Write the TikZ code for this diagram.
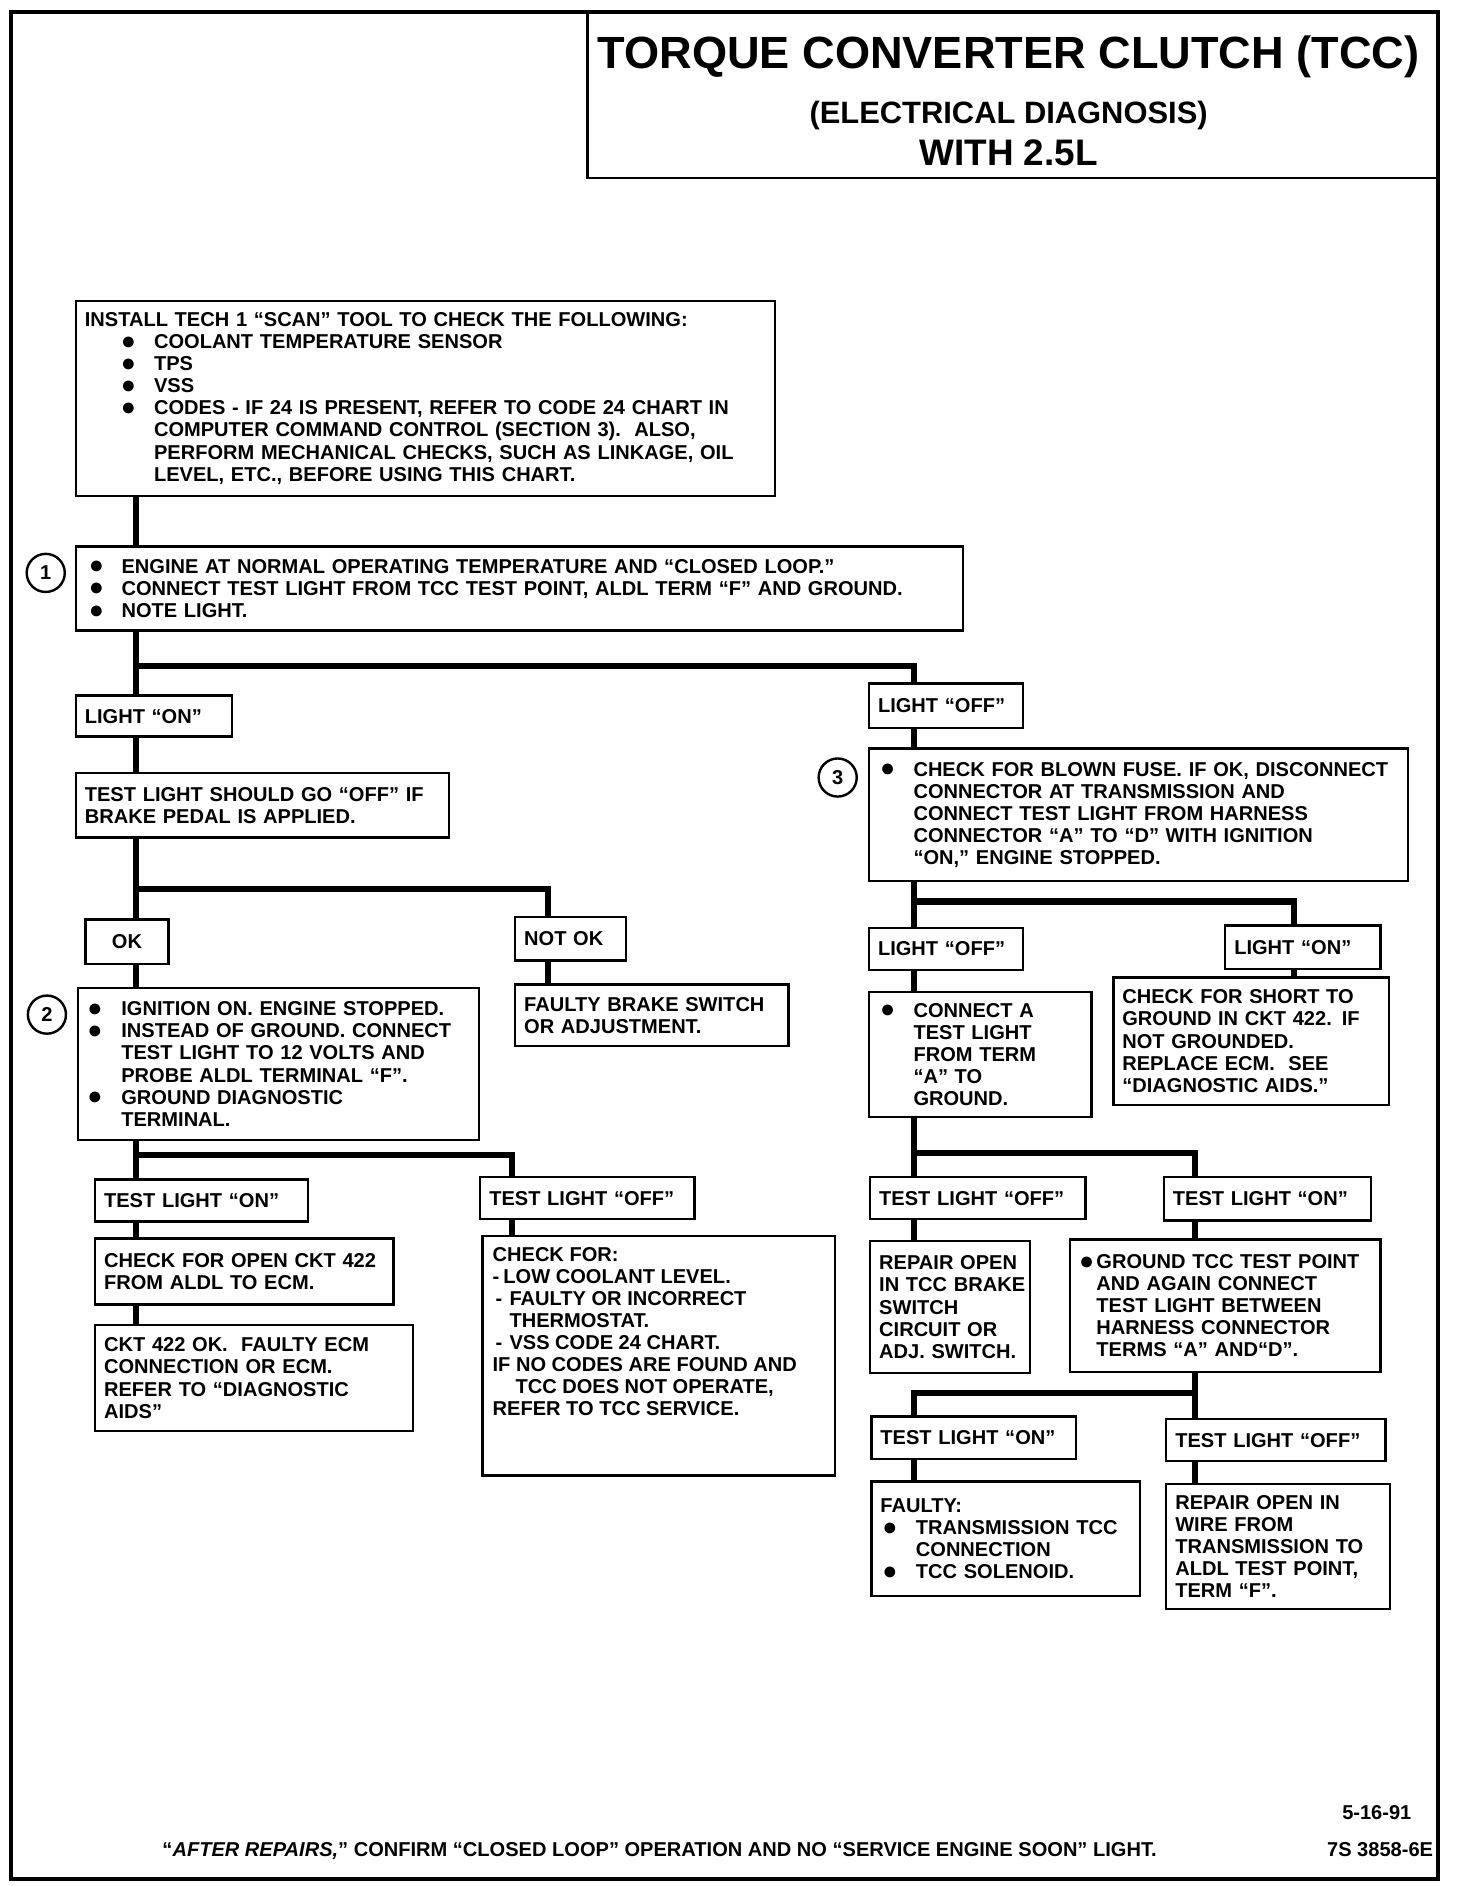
\documentclass[tikz,border=0pt]{standalone}
\usepackage{fontspec}
\setmainfont{Liberation Sans}
\newcommand{\bul}[1]{\makebox[#1][l]{\raisebox{-0.4pt}{\fontsize{12.5}{11}\selectfont ●}}}
\begin{document}
\begin{tikzpicture}[x=0.6pt, y=-0.6pt,
    box/.style={draw, line width=1.2pt, anchor=north west, align=left,
        inner xsep=4.5pt, inner ysep=2pt, font=\bfseries\fontsize{10}{11}\selectfont},
    wire/.style={line width=3pt},
    num/.style={draw, circle, line width=1.2pt, minimum size=19pt, inner sep=0pt,
        font=\bfseries\fontsize{10}{11}\selectfont},
    txt/.style={font=\bfseries\fontsize{10}{11}\selectfont, inner sep=0pt}]
\useasboundingbox (0,0) rectangle (1210,1567);
\draw[line width=1.8pt] (9,10) rectangle (1195,1561);
% title block
\node[draw, line width=1.2pt, anchor=north west, minimum width=423.6pt, minimum height=82.8pt, inner sep=0pt] (titlebox) at (487,9) {};
\node[txt, font=\bfseries\fontsize{22.5}{24}\selectfont] (title) at (838,47) {TORQUE CONVERTER CLUTCH (TCC)};
\node[txt, font=\bfseries\fontsize{15.4}{17}\selectfont] (subtitle) at (838,96) {(ELECTRICAL DIAGNOSIS)};
\node[txt, font=\bfseries\fontsize{18.4}{20}\selectfont] (engine) at (838,127) {WITH 2.5L};
% left branch
\node[box, text width=339.6pt, minimum height=97.2pt] (install) at (62,249) {INSTALL TECH 1 ``SCAN'' TOOL TO CHECK THE FOLLOWING:\\
\hspace*{18pt}\bul{16.5pt}COOLANT TEMPERATURE SENSOR\\
\hspace*{18pt}\bul{16.5pt}TPS\\
\hspace*{18pt}\bul{16.5pt}VSS\\
\hspace*{18pt}\bul{16.5pt}\mbox{CODES - IF 24 IS PRESENT, REFER TO CODE 24 CHART IN}\\
\hspace*{34.5pt}\mbox{COMPUTER COMMAND CONTROL (SECTION 3).\ \ ALSO,}\\
\hspace*{34.5pt}\mbox{PERFORM MECHANICAL CHECKS, SUCH AS LINKAGE, OIL}\\
\hspace*{34.5pt}LEVEL, ETC., BEFORE USING THIS CHART.};
\node[box, text width=433.2pt, minimum height=42pt] (step1) at (62,453) {\hspace*{2pt}\bul{16.3pt}\mbox{ENGINE AT NORMAL OPERATING TEMPERATURE AND ``CLOSED LOOP.''}\\
\hspace*{2pt}\bul{16.3pt}\mbox{CONNECT TEST LIGHT FROM TCC TEST POINT, ALDL TERM ``F'' AND GROUND.}\\
\hspace*{2pt}\bul{16.3pt}NOTE LIGHT.};
\node[num] (n1) at (38,476) {1};
\node[box, text width=69pt, minimum height=20.4pt] (lon) at (62,577) {LIGHT ``ON''};
\node[box, text width=177pt, minimum height=32.4pt] (tlsh) at (62,641) {\mbox{TEST LIGHT SHOULD GO ``OFF'' IF}\\BRAKE PEDAL IS APPLIED.};
\node[box, align=center, text width=32.4pt, minimum height=22.2pt] (ok) at (70,763) {OK};
\node[box, text width=46.2pt, minimum height=21.6pt] (notok) at (427,761) {NOT OK};
\node[box, text width=127.2pt, minimum height=30.6pt] (brake) at (427,817) {FAULTY BRAKE SWITCH\\OR ADJUSTMENT.};
\node[box, text width=190.8pt, minimum height=75.6pt] (step2) at (64,820) {\bul{17pt}IGNITION ON. ENGINE STOPPED.\\
\bul{17pt}\mbox{INSTEAD OF GROUND. CONNECT}\\
\hspace*{17pt}\mbox{TEST LIGHT TO 12 VOLTS AND}\\
\hspace*{17pt}PROBE ALDL TERMINAL ``F''.\\
\bul{17pt}GROUND DIAGNOSTIC\\
\hspace*{17pt}TERMINAL.};
\node[num] (n2) at (39,843) {2};
\node[box, text width=97.2pt, minimum height=21pt] (tlonA) at (78,979) {TEST LIGHT ``ON''};
\node[box, text width=97.8pt, minimum height=21pt] (tloffA) at (398,977) {TEST LIGHT ``OFF''};
\node[box, text width=139.8pt, minimum height=33pt] (openckt) at (78,1028) {CHECK FOR OPEN CKT 422\\FROM ALDL TO ECM.};
\node[box, text width=149.4pt, minimum height=52.8pt] (cktok) at (78,1100) {CKT 422 OK.\ \ FAULTY ECM\\CONNECTION OR ECM.\\REFER TO ``DIAGNOSTIC\\AIDS''};
\node[box, text width=166.8pt, minimum height=119.4pt] (chkfor) at (400,1026) {};
\node[txt, anchor=north west, align=left] (chkfortext) at (409,1036) {CHECK FOR:\\
\makebox[5.4pt][l]{-}LOW COOLANT LEVEL.\\
\makebox[8.4pt][l]{\hspace*{1.5pt}-}FAULTY OR INCORRECT\\
\hspace*{8.4pt}THERMOSTAT.\\
\makebox[8.4pt][l]{\hspace*{1.5pt}-}VSS CODE 24 CHART.\\
IF NO CODES ARE FOUND AND\\
\hspace*{11.4pt}TCC DOES NOT OPERATE,\\
REFER TO TCC SERVICE.};
% right branch
\node[box, text width=67.8pt, minimum height=22.2pt] (loffA) at (721,567) {LIGHT ``OFF''};
\node[box, text width=259.8pt, minimum height=66pt] (step3) at (721,621) {\hspace*{1pt}\bul{16.7pt}\mbox{CHECK FOR BLOWN FUSE. IF OK, DISCONNECT}\\
\hspace*{17.7pt}CONNECTOR AT TRANSMISSION AND\\
\hspace*{17.7pt}CONNECT TEST LIGHT FROM HARNESS\\
\hspace*{17.7pt}\mbox{CONNECTOR ``A'' TO ``D'' WITH IGNITION}\\
\hspace*{17.7pt}``ON,'' ENGINE STOPPED.};
\node[num] (n3) at (696,646) {3};
\node[box, text width=67.8pt, minimum height=21pt] (loffB) at (721,770) {LIGHT ``OFF''};
\node[box, text width=68.4pt, minimum height=21.6pt] (lonB) at (1017,768) {LIGHT ``ON''};
\node[box, text width=102pt, minimum height=62.4pt] (connA) at (721,823) {\hspace*{1pt}\bul{16.7pt}CONNECT A\\
\hspace*{17.7pt}TEST LIGHT\\
\hspace*{17.7pt}FROM TERM\\
\hspace*{17.7pt}``A'' TO\\
\hspace*{17.7pt}GROUND.};
\node[box, text width=128.4pt, minimum height=63.6pt] (short) at (924,811) {CHECK FOR SHORT TO\\\mbox{GROUND IN CKT 422. IF}\\NOT GROUNDED.\\REPLACE ECM.\ \ SEE\\``DIAGNOSTIC AIDS.''};
\node[box, text width=98.4pt, minimum height=21pt] (tloffB) at (722,977) {TEST LIGHT ``OFF''};
\node[box, text width=94.2pt, minimum height=21.6pt] (tlonB) at (966,977) {TEST LIGHT ``ON''};
\node[box, text width=70.8pt, minimum height=66pt] (repairA) at (722,1030) {\mbox{REPAIR OPEN}\\\mbox{IN TCC BRAKE}\\SWITCH\\\mbox{CIRCUIT OR}\\\mbox{ADJ. SWITCH.}};
\node[box, text width=145.8pt, minimum height=66pt] (ground) at (888,1029) {\bul{8.7pt}GROUND TCC TEST POINT\\
\hspace*{8.7pt}AND AGAIN CONNECT\\
\hspace*{8.7pt}TEST LIGHT BETWEEN\\
\hspace*{8.7pt}HARNESS CONNECTOR\\
\hspace*{8.7pt}TERMS ``A'' AND``D''.};
\node[box, text width=93pt, minimum height=21pt] (tlonC) at (723,1176) {TEST LIGHT ``ON''};
\node[box, text width=100.2pt, minimum height=21pt] (tloffC) at (968,1178) {TEST LIGHT ``OFF''};
\node[box, text width=124.8pt, minimum height=57pt] (faulty) at (723,1230) {FAULTY:\\
\hspace*{1pt}\bul{16.7pt}TRANSMISSION TCC\\
\hspace*{17.7pt}CONNECTION\\
\hspace*{1pt}\bul{16.7pt}TCC SOLENOID.};
\node[box, text width=102.6pt, minimum height=62.4pt] (repairB) at (968,1232) {REPAIR OPEN IN\\WIRE FROM\\TRANSMISSION TO\\ALDL TEST POINT,\\TERM ``F''.};
% footer
\node[txt, anchor=east] (date) at (1173,1506) {5-16-91};
\node[txt, anchor=east] (docno) at (1191,1537) {7S 3858-6E};
\node[txt] (note) at (548,1538) {``\textit{AFTER REPAIRS,}'' CONFIRM ``CLOSED LOOP'' OPERATION AND NO ``SERVICE ENGINE SOON'' LIGHT.};
% connectors
\coordinate (xa) at (113,0);
\coordinate (xb) at (455,0);
\coordinate (xc) at (425,0);
\coordinate (xd) at (759,0);
\coordinate (xe) at (1075,0);
\coordinate (xf) at (993,0);
\coordinate (ya) at (0,553);
\coordinate (yb) at (0,739);
\coordinate (yc) at (0,960);
\coordinate (yd) at (0,749);
\coordinate (ye) at (0,958);
\coordinate (yf) at (0,1157);
\draw[wire] (install.south -| xa) -- (step1.north -| xa);
\draw[wire] (step1.south -| xa) -- (lon.north -| xa);
\draw[wire] (xa |- ya) -| (loffA.north -| xd);
\draw[wire] (lon.south -| xa) -- (tlsh.north -| xa);
\draw[wire] (tlsh.south -| xa) -- (ok.north -| xa);
\draw[wire] (xa |- yb) -| (notok.north -| xb);
\draw[wire] (ok.south -| xa) -- (step2.north -| xa);
\draw[wire] (notok.south -| xb) -- (brake.north -| xb);
\draw[wire] (step2.south -| xa) -- (tlonA.north -| xa);
\draw[wire] (xa |- yc) -| (tloffA.north -| xc);
\draw[wire] (tlonA.south -| xa) -- (openckt.north -| xa);
\draw[wire] (openckt.south -| xa) -- (cktok.north -| xa);
\draw[wire] (tloffA.south -| xc) -- (chkfor.north -| xc);
\draw[wire] (loffA.south -| xd) -- (step3.north -| xd);
\draw[wire] (step3.south -| xd) -- (loffB.north -| xd);
\draw[wire] (xd |- yd) -| (lonB.north -| xe);
\draw[wire] (loffB.south -| xd) -- (connA.north -| xd);
\draw[wire] (lonB.south -| xe) -- (short.north -| xe);
\draw[wire] (connA.south -| xd) -- (tloffB.north -| xd);
\draw[wire] (xd |- ye) -| (tlonB.north -| xf);
\draw[wire] (tloffB.south -| xd) -- (repairA.north -| xd);
\draw[wire] (tlonB.south -| xf) -- (ground.north -| xf);
\draw[wire] (ground.south -| xf) -- (tloffC.north -| xf);
\draw[wire] (xf |- yf) -| (tlonC.north -| xd);
\draw[wire] (tlonC.south -| xd) -- (faulty.north -| xd);
\draw[wire] (tloffC.south -| xf) -- (repairB.north -| xf);
\end{tikzpicture}
\end{document}
